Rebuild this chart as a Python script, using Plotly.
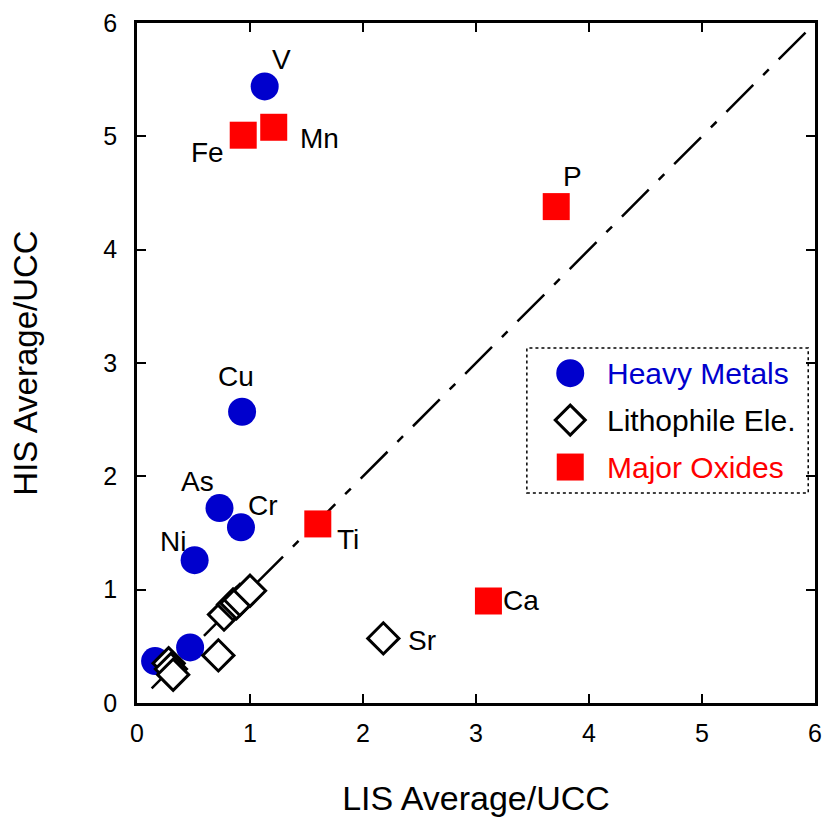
import plotly.graph_objects as go

# ---- data ----
hm_x = [1.13, 0.93, 0.73, 0.92, 0.51, 0.47, 0.16]
hm_y = [5.44, 2.57, 1.72, 1.55, 1.26, 0.49, 0.37]
hm_lab = ["V", "Cu", "As", "Cr", "Ni", "", ""]

le_x = [2.18, 0.72, 0.28, 0.30, 0.32, 0.77, 0.85, 0.88, 0.91, 1.00]
le_y = [0.57, 0.42, 0.35, 0.30, 0.25, 0.78, 0.87, 0.88, 0.91, 0.99]
le_lab = ["Sr", "", "", "", "", "", "", "", "", ""]

mo_x = [0.94, 1.21, 3.71, 1.60, 3.11]
mo_y = [5.01, 5.08, 4.38, 1.58, 0.90]
mo_lab = ["Fe", "Mn", "P", "Ti", "Ca"]

ref_x = [0.13, 6.0]
ref_y = [0.13, 6.0]

series_names = ["Heavy Metals", "Lithophile Ele.", "Major Oxides"]
axis_ticks = [0, 1, 2, 3, 4, 5, 6]

# ---- styles ----
FONT = "Arial, Liberation Sans, sans-serif"
BLUE = "#0000CD"
RED = "#FF0000"
label_shift = {
    "V": (17, 27), "Cu": (-6, 35), "As": (-22, 27), "Cr": (22, 22), "Ni": (-22, 19),
    "Sr": (39, -2), "Fe": (-36, -17), "Mn": (46, -11), "P": (16, 30),
    "Ti": (30, -16), "Ca": (33, 1),
}

fig = go.Figure()
fig.add_trace(go.Scatter(x=ref_x, y=ref_y, mode="lines",
                         line=dict(color="black", width=2.5, dash="38px,14px,8px,14px"),
                         showlegend=False, hoverinfo="skip"))
fig.add_trace(go.Scatter(x=hm_x, y=hm_y, mode="markers", name=series_names[0],
                         marker=dict(symbol="circle", size=28, color=BLUE, line=dict(width=0))))
fig.add_trace(go.Scatter(x=le_x, y=le_y, mode="markers", name=series_names[1],
                         marker=dict(symbol="diamond", size=24, color="white",
                                     line=dict(width=3, color="black"))))
fig.add_trace(go.Scatter(x=mo_x, y=mo_y, mode="markers", name=series_names[2],
                         marker=dict(symbol="square", size=27, color=RED, line=dict(width=0))))

annotations = []
for xs, ys, labs in [(hm_x, hm_y, hm_lab), (le_x, le_y, le_lab), (mo_x, mo_y, mo_lab)]:
    for x, y, t in zip(xs, ys, labs):
        if not t:
            continue
        dx, dy = label_shift[t]
        annotations.append(dict(x=x, y=y, xref="x", yref="y", text=t, showarrow=False,
                                xshift=dx, yshift=dy, font=dict(size=28, color="black", family=FONT)))

# ---- manual legend (pixel-sized symbols) ----
L_x0, L_x1, L_y0, L_y1 = 0.575, 0.990, 0.309, 0.522
sym_x = 0.639
txt_x = 0.690
rows = [0.485, 0.416, 0.347]
shapes = [dict(type="rect", xref="paper", yref="paper", x0=L_x0, x1=L_x1, y0=L_y0, y1=L_y1,
               line=dict(color="black", width=1.5, dash="dot"), fillcolor="white", layer="below")]
r = 14
shapes.append(dict(type="circle", xref="paper", yref="paper", xsizemode="pixel", ysizemode="pixel",
                   xanchor=sym_x, yanchor=rows[0], x0=-r, x1=r, y0=-r, y1=r,
                   fillcolor=BLUE, line=dict(width=0)))
d = 15
shapes.append(dict(type="path", xref="paper", yref="paper", xsizemode="pixel", ysizemode="pixel",
                   xanchor=sym_x, yanchor=rows[1],
                   path=f"M {-d} 0 L 0 {d} L {d} 0 L 0 {-d} Z",
                   fillcolor="white", line=dict(width=3, color="black")))
s = 13.5
shapes.append(dict(type="rect", xref="paper", yref="paper", xsizemode="pixel", ysizemode="pixel",
                   xanchor=sym_x, yanchor=rows[2], x0=-s, x1=s, y0=-s, y1=s,
                   fillcolor=RED, line=dict(width=0)))
for name, row, col in zip(series_names, rows, [BLUE, "black", RED]):
    annotations.append(dict(x=txt_x, y=row, xref="paper", yref="paper", xanchor="left", yanchor="middle",
                            text=name, showarrow=False, font=dict(size=30, color=col, family=FONT)))

axis_common = dict(range=[0, 6], tickvals=axis_ticks, ticks="inside", ticklen=9, tickwidth=2,
                   tickcolor="black", showline=True, linewidth=2.5, linecolor="black", mirror="ticks",
                   showgrid=False, zeroline=False, automargin=False,
                   tickfont=dict(size=25, color="black", family=FONT))

fig.update_layout(
    width=826, height=820,
    margin=dict(l=137, r=11, t=23, b=117),
    paper_bgcolor="white", plot_bgcolor="white",
    showlegend=False,
    font=dict(family=FONT, color="black"),
    xaxis=dict(**axis_common, title=dict(text="LIS Average/UCC", font=dict(size=34, family=FONT), standoff=41),
               ticklabelstandoff=6),
    yaxis=dict(**axis_common, title=dict(text="HIS Average/UCC", font=dict(size=33, family=FONT), standoff=56),
               ticklabelstandoff=12),
    shapes=shapes,
    annotations=annotations,
)

fig.write_html("out.html")
